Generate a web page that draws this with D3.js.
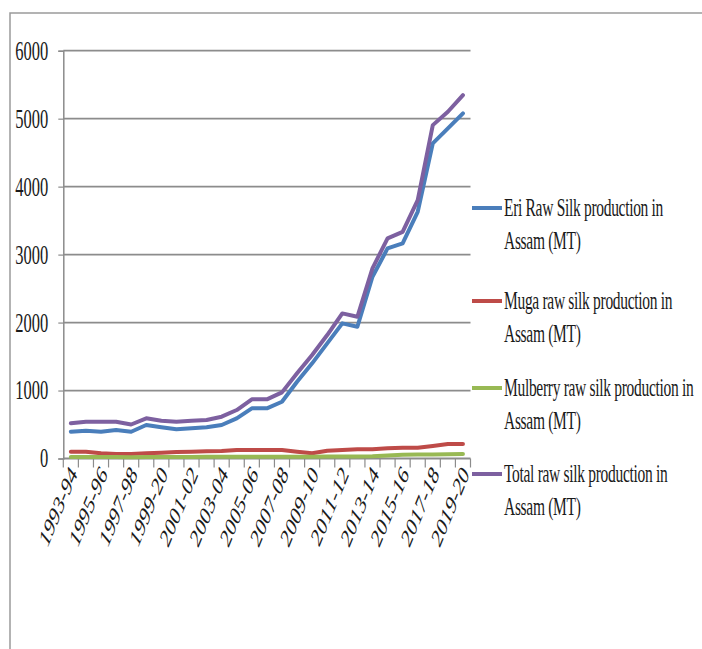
<!DOCTYPE html>
<html>
<head>
<meta charset="utf-8">
<script src="https://cdn.jsdelivr.net/npm/d3@7"></script>
<style>
  html, body { margin: 0; padding: 0; background: #fff; }
  svg { display: block; }
  text { font-family: "Liberation Serif", "Times New Roman", serif; fill: #1a1a1a; }
</style>
</head>
<body>
<svg id="chart" width="702" height="649"></svg>
<script>
// Raw silk production in Assam (MT), 1993-94 to 2019-20
const categories = [
  "1993-94", "1994-95", "1995-96", "1996-97", "1997-98", "1998-99", "1999-20",
  "2000-01", "2001-02", "2002-03", "2003-04", "2004-05", "2005-06", "2006-07",
  "2007-08", "2008-09", "2009-10", "2010-11", "2011-12", "2012-13", "2013-14",
  "2014-15", "2015-16", "2016-17", "2017-18", "2018-19", "2019-20"
];
const eri = [394, 409, 394, 419, 394, 493, 459, 429, 444, 459, 493, 591, 738, 738,
  835, 1130, 1400, 1694, 1988, 1938, 2674, 3091, 3165, 3630, 4637, 4857, 5078];
const muga = [100, 100, 76, 66, 66, 76, 85, 95, 100, 105, 110, 125, 125, 125,
  125, 100, 76, 115, 125, 135, 135, 150, 159, 159, 184, 213, 213];
const mulberry = [22, 22, 22, 22, 20, 22, 22, 22, 22, 24, 25, 25, 25, 25,
  26, 26, 27, 28, 28, 30, 32, 45, 55, 58, 60, 62, 65];
const total = [518, 541, 541, 541, 500, 591, 556, 541, 556, 566, 615, 713, 870, 870,
  973, 1253, 1522, 1816, 2135, 2086, 2797, 3238, 3335, 3800, 4905, 5102, 5346];

const seriesNames = [
  "Eri Raw Silk production in Assam (MT)",
  "Muga raw silk production in Assam (MT)",
  "Mulberry raw silk production in Assam (MT)",
  "Total raw silk production in Assam (MT)"
];
const seriesValues = [eri, muga, mulberry, total];
const seriesColors = ["#4a7ebb", "#be4b48", "#98b954", "#7d60a0"];
const yTicks = [0, 1000, 2000, 3000, 4000, 5000, 6000];
const xTickLabels = categories.filter((d, i) => i % 2 === 0);

const svg = d3.select("#chart");
const stretch = 1.6;   // tall, narrow lettering

// outer frame (top and left edges)
svg.append("path")
  .attr("d", "M10,649V13H702")
  .attr("fill", "none")
  .attr("stroke", "#9a9a9a")
  .attr("stroke-width", 1.5);

const x = d3.scaleBand().domain(categories).range([63.3, 470.5]).padding(0);
const y = d3.scaleLinear().domain([0, 6000]).range([458.5, 50.7]);
const cx = d => x(d) + x.bandwidth() / 2;

// horizontal gridlines
svg.append("g")
  .selectAll("line")
  .data(yTicks.filter(v => v > 0))
  .join("line")
  .attr("x1", x.range()[0]).attr("x2", x.range()[1])
  .attr("y1", d => y(d)).attr("y2", d => y(d))
  .attr("stroke", "#8c8c8c")
  .attr("stroke-width", 1.8);

// y axis
const yAxis = svg.append("g")
  .attr("transform", `translate(${x.range()[0]},0)`)
  .call(d3.axisLeft(y).tickValues(yTicks).tickSize(5).tickPadding(10).tickFormat(d3.format("d")));
yAxis.select(".domain").attr("stroke", "#8c8c8c").attr("stroke-width", 1.5);
yAxis.selectAll(".tick line").attr("stroke", "#8c8c8c").attr("stroke-width", 1.2);
yAxis.selectAll(".tick text")
  .attr("font-size", 16.5)
  .attr("font-family", "Liberation Serif, serif")
  .attr("fill", "#1a1a1a")
  .attr("dy", "0.32em")
  .attr("transform", `scale(1,${stretch})`);

// x axis line with boundary ticks between categories
const xAxis = svg.append("g").attr("transform", `translate(0,${y(0)})`);
xAxis.append("line")
  .attr("x1", x.range()[0]).attr("x2", x.range()[1])
  .attr("stroke", "#8c8c8c").attr("stroke-width", 1.8);
xAxis.selectAll("line.tk")
  .data(d3.range(categories.length + 1))
  .join("line")
  .attr("class", "tk")
  .attr("x1", k => x.range()[0] + k * x.step())
  .attr("x2", k => x.range()[0] + k * x.step())
  .attr("y1", 0).attr("y2", 9)
  .attr("stroke", "#8c8c8c").attr("stroke-width", 1.2);

// rotated category labels on every other year
svg.append("g")
  .selectAll("text")
  .data(xTickLabels)
  .join("text")
  .attr("transform", d => `translate(${cx(d) + 7},${y(0) + 16}) scale(1,1.7) rotate(-55)`)
  .attr("text-anchor", "end")
  .attr("font-size", 16)
  .text(d => d);

// series lines
const line = d3.line()
  .x((v, i) => cx(categories[i]))
  .y(v => y(v))
  .curve(d3.curveLinear);

svg.append("g")
  .selectAll("path")
  .data(seriesValues)
  .join("path")
  .attr("d", line)
  .attr("fill", "none")
  .attr("stroke", (d, i) => seriesColors[i])
  .attr("stroke-width", 4)
  .attr("stroke-linejoin", "round")
  .attr("stroke-linecap", "round");

// legend
const legendTop = [216, 309, 396, 482];
const legend = svg.append("g")
  .selectAll("g")
  .data(seriesNames)
  .join("g")
  .attr("transform", (d, i) => `translate(472,${legendTop[i]})`);

legend.append("line")
  .attr("x1", 0).attr("x2", 30)
  .attr("y1", -8).attr("y2", -8)
  .attr("stroke", (d, i) => seriesColors[i])
  .attr("stroke-width", 4);

legend.each(function (d) {
  const g = d3.select(this);
  const cut = d.lastIndexOf(" Assam");
  const rows = [d.slice(0, cut), d.slice(cut + 1)];
  rows.forEach((r, j) => {
    g.append("text")
      .attr("transform", `translate(32,${j * 33}) scale(1,${stretch})`)
      .attr("font-size", 15.5)
      .attr("letter-spacing", -0.3)
      .text(r);
  });
});
</script>
</body>
</html>
